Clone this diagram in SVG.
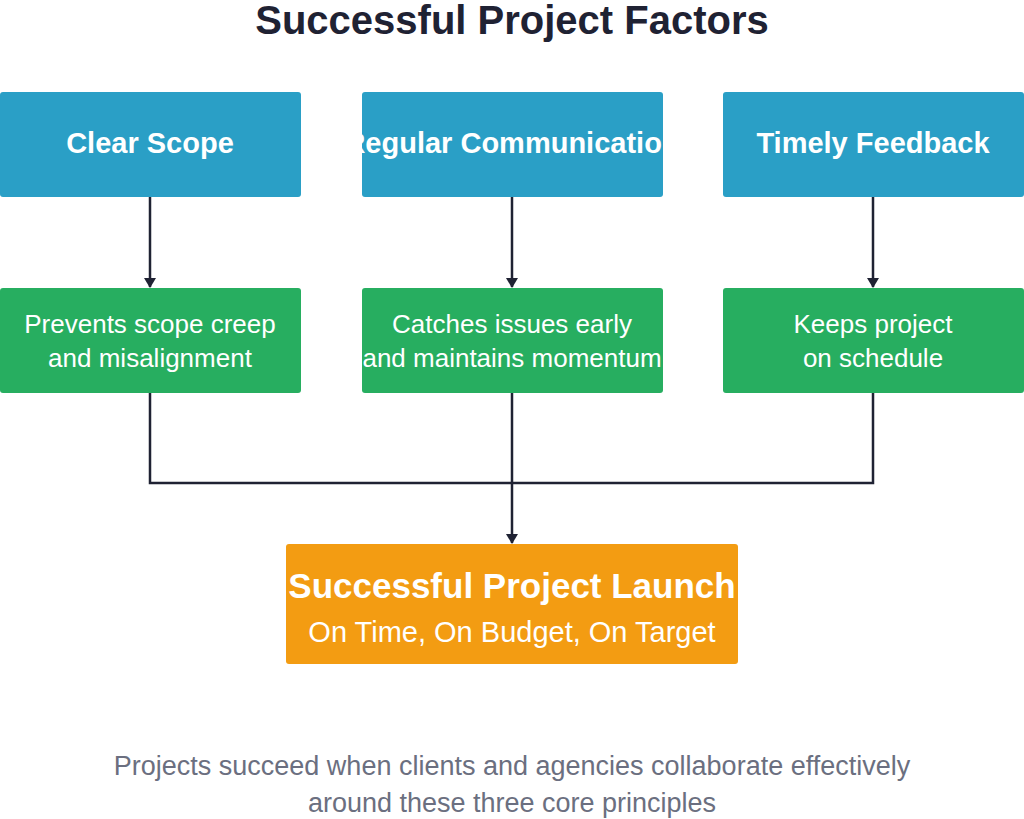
<svg xmlns="http://www.w3.org/2000/svg" width="1024" height="819" viewBox="0 0 1024 819">
<style>
text{font-family:"Liberation Sans",Arial,sans-serif;text-anchor:middle}
.h{fill:#fff;font-weight:bold;font-size:29px}
.g{fill:#fff;font-size:26px}
.c{fill:none;stroke:#1f2233;stroke-width:2.5}
</style>
<defs>
<marker id="a" markerWidth="10" markerHeight="12" refX="9" refY="6" orient="auto" markerUnits="userSpaceOnUse"><path d="M0,0L10,6L0,12z" fill="#1f2233"/></marker>
<clipPath id="c1"><rect x="0" y="92" width="301" height="105"/></clipPath>
<clipPath id="c2"><rect x="362" y="92" width="301" height="105"/></clipPath>
<clipPath id="c3"><rect x="723" y="92" width="301" height="105"/></clipPath>
<clipPath id="c4"><rect x="0" y="288" width="301" height="105"/></clipPath>
<clipPath id="c5"><rect x="362" y="288" width="301" height="105"/></clipPath>
<clipPath id="c6"><rect x="723" y="288" width="301" height="105"/></clipPath>
<clipPath id="c7"><rect x="286" y="544" width="452" height="120"/></clipPath>
</defs>
<rect width="1024" height="819" fill="#fff"/>
<text x="512" y="34" style="font-size:40px;font-weight:bold;fill:#1f2233">Successful Project Factors</text>
<g id="connectors">
<path class="c" d="M150,197V287" marker-end="url(#a)"/>
<path class="c" d="M512,197V287" marker-end="url(#a)"/>
<path class="c" d="M873,197V287" marker-end="url(#a)"/>
<path class="c" d="M150,393V483H873V393"/>
<path class="c" d="M512,393V543" marker-end="url(#a)"/>
</g>
<g id="n1" clip-path="url(#c1)"><rect x="0" y="92" width="301" height="105" rx="3" fill="#2a9fc6"/><text class="h" x="150" y="153">Clear Scope</text></g>
<g id="n2" clip-path="url(#c2)"><rect x="362" y="92" width="301" height="105" rx="3" fill="#2a9fc6"/><text class="h" x="512" y="153">Regular Communication</text></g>
<g id="n3" clip-path="url(#c3)"><rect x="723" y="92" width="301" height="105" rx="3" fill="#2a9fc6"/><text class="h" x="873" y="153">Timely Feedback</text></g>
<g id="n4" clip-path="url(#c4)"><rect x="0" y="288" width="301" height="105" rx="3" fill="#27ae60"/><text class="g" x="150" y="333">Prevents scope creep</text><text class="g" x="150" y="367">and misalignment</text></g>
<g id="n5" clip-path="url(#c5)"><rect x="362" y="288" width="301" height="105" rx="3" fill="#27ae60"/><text class="g" x="512" y="333">Catches issues early</text><text class="g" x="512" y="367">and maintains momentum</text></g>
<g id="n6" clip-path="url(#c6)"><rect x="723" y="288" width="301" height="105" rx="3" fill="#27ae60"/><text class="g" x="873" y="333">Keeps project</text><text class="g" x="873" y="367">on schedule</text></g>
<g id="n7" clip-path="url(#c7)"><rect x="286" y="544" width="452" height="120" rx="3" fill="#f39c12"/><text x="512" y="598" style="fill:#fff;font-weight:bold;font-size:35px">Successful Project Launch</text><text x="512" y="642" style="fill:#fff;font-size:29px">On Time, On Budget, On Target</text></g>
<text x="512" y="775" style="font-size:27px;fill:#6b6f80">Projects succeed when clients and agencies collaborate effectively</text>
<text x="512" y="812" style="font-size:27px;fill:#6b6f80">around these three core principles</text>
</svg>
